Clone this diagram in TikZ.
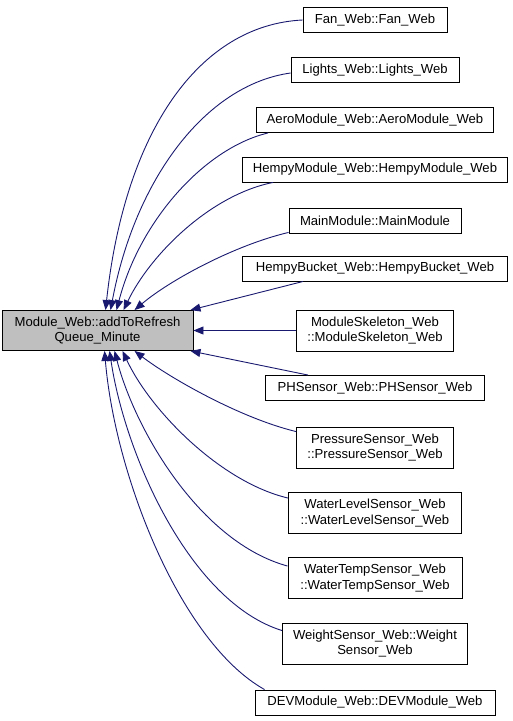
\documentclass[tikz,border=0pt]{standalone}
\usepackage{fontspec}
\setmainfont{Liberation Sans}
\usetikzlibrary{arrows.meta}
\definecolor{edgec}{HTML}{191970}
\definecolor{maingray}{HTML}{BFBFBF}
\begin{document}
\begin{tikzpicture}[x=1pt,y=-1pt,
  box/.style={draw=black, line width=0.9pt, fill=white, inner sep=0pt, align=center,
    font=\fontsize{13.1}{15.5}\selectfont},
  e/.style={draw=edgec, line width=0.9pt, {Triangle[length=10pt,width=8pt]}-},
]
\useasboundingbox (0,0) rectangle (513,721);
\node[box, fill=maingray, minimum width=191pt, minimum height=40pt] (main) at (97.5,330.5) {Module\_Web::addToRefresh\\Queue\_Minute};

\node[box, minimum width=144pt, minimum height=25pt] (fan) at (375,20) {Fan\_Web::Fan\_Web};
\node[box, minimum width=168pt, minimum height=25pt] (lights) at (375,70) {Lights\_Web::Lights\_Web};
\node[box, minimum width=237pt, minimum height=25pt] (aero) at (375,120) {AeroModule\_Web::AeroModule\_Web};
\node[box, minimum width=265pt, minimum height=25pt] (hempy) at (375,169.5) {HempyModule\_Web::HempyModule\_Web};
\node[box, minimum width=172pt, minimum height=25pt] (mainmod) at (375,220.5) {MainModule::MainModule};
\node[box, minimum width=265pt, minimum height=25pt] (bucket) at (375,268.5) {HempyBucket\_Web::HempyBucket\_Web};
\node[box, minimum width=157pt, minimum height=41pt] (skel) at (375,330.5) {ModuleSkeleton\_Web\\::ModuleSkeleton\_Web};
\node[box, minimum width=219pt, minimum height=25pt] (ph) at (375,388) {PHSensor\_Web::PHSensor\_Web};
\node[box, minimum width=157pt, minimum height=41pt] (press) at (375,447.5) {PressureSensor\_Web\\::PressureSensor\_Web};
\node[box, minimum width=173pt, minimum height=41pt] (level) at (375,513) {WaterLevelSensor\_Web\\::WaterLevelSensor\_Web};
\node[box, minimum width=174pt, minimum height=41pt] (temp) at (375,578) {WaterTempSensor\_Web\\::WaterTempSensor\_Web};
\node[box, minimum width=185pt, minimum height=41pt] (weight) at (375,643.5) {WeightSensor\_Web::Weight\\Sensor\_Web};
\node[box, minimum width=240pt, minimum height=25pt] (dev) at (375,702.5) {DEVModule\_Web::DEVModule\_Web};

% upper callers
\draw[e] ([xshift=104pt]main.north west) .. controls (125,130) and (200,25) .. (fan.west);
\draw[e] ([xshift=109pt]main.north west) .. controls (135,180) and (205,85) .. ([yshift=-3pt]lights.west);
\draw[e] ([xshift=115pt]main.north west) .. controls (140,220) and (205,148) .. ([xshift=12pt]aero.south west);
\draw[e] ([xshift=122pt]main.north west) .. controls (150,255) and (210,195) .. ([xshift=31pt]hempy.south west);
\draw[e] ([xshift=133pt]main.north west) .. controls (170,280) and (235,245) .. ([yshift=1pt]mainmod.south west);
\draw[e] ([xshift=-3pt]main.north east) -- ([xshift=61pt]bucket.south west);
\draw[e] (main.east) -- (skel.west);
\draw[e] ([xshift=-3pt]main.south east) -- ([xshift=43pt]ph.north west);
% lower callers
\draw[e] ([xshift=133pt]main.south west) .. controls (170,378) and (240,418) .. ([yshift=-5pt]press.north west);
\draw[e] ([xshift=121pt]main.south west) .. controls (150,410) and (220,482) .. ([yshift=-6pt]level.north west);
\draw[e] ([xshift=113pt]main.south west) .. controls (135,430) and (200,542) .. ([yshift=-9pt]temp.north west);
\draw[e] ([xshift=108pt]main.south west) .. controls (125,455) and (190,602) .. ([yshift=-8pt]weight.north west);
\draw[e] ([xshift=103pt]main.south west) .. controls (115,475) and (180,642) .. ([xshift=10pt]dev.north west);
\end{tikzpicture}
\end{document}
